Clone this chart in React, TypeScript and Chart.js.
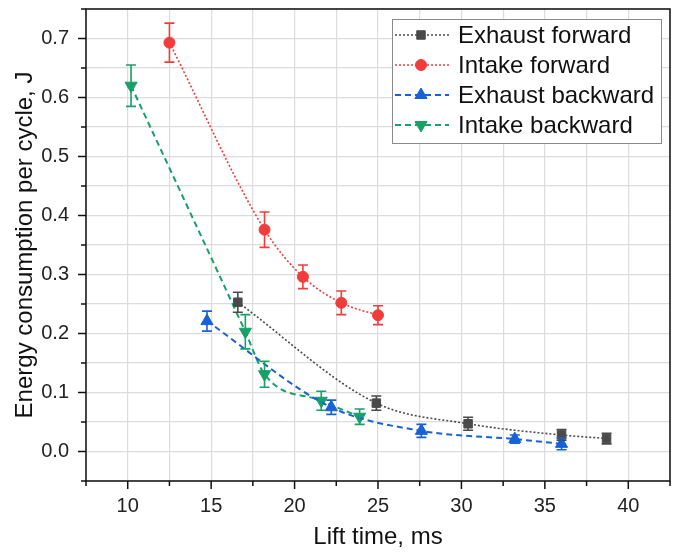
import { useEffect, useRef } from 'react';
import { Chart, registerables } from 'chart.js';
import { drawPoint } from 'chart.js/helpers';

Chart.register(...registerables);

// Lift time (ms), energy per cycle (J) and its error for each valve/direction
const seriesNames = ['Exhaust forward', 'Intake forward', 'Exhaust backward', 'Intake backward'];

const exhaustFwdTime = [16.6, 24.9, 30.4, 36.0, 38.7];
const exhaustFwdEnergy = [0.253, 0.082, 0.047, 0.028, 0.022];
const exhaustFwdErr = [0.017, 0.012, 0.011, 0.009, 0.009];

const intakeFwdTime = [12.5, 18.2, 20.5, 22.8, 25.0];
const intakeFwdEnergy = [0.693, 0.376, 0.296, 0.252, 0.231];
const intakeFwdErr = [0.033, 0.03, 0.02, 0.02, 0.016];

const exhaustBwdTime = [14.75, 22.2, 27.6, 33.2, 36.0];
const exhaustBwdEnergy = [0.221, 0.075, 0.035, 0.021, 0.013];
const exhaustBwdErr = [0.017, 0.012, 0.011, 0.007, 0.01];

const intakeBwdTime = [10.2, 17.05, 18.2, 21.6, 23.9];
const intakeBwdEnergy = [0.62, 0.203, 0.131, 0.086, 0.059];
const intakeBwdErr = [0.035, 0.029, 0.022, 0.016, 0.013];

const xMin = 7.5;
const xMax = 42.5;
const yMin = -0.05;
const yMax = 0.75;

const FONT = "'Liberation Sans', Arial, sans-serif";

const series = [
  { name: seriesNames[0], xs: exhaustFwdTime, ys: exhaustFwdEnergy, err: exhaustFwdErr, color: '#4a4a4a', dash: [2, 2], width: 1.6, style: 'rect', radius: 6, rotation: 0 },
  { name: seriesNames[1], xs: intakeFwdTime, ys: intakeFwdEnergy, err: intakeFwdErr, color: '#f23c3c', dash: [2, 2], width: 1.6, style: 'circle', radius: 5.5, rotation: 0 },
  { name: seriesNames[2], xs: exhaustBwdTime, ys: exhaustBwdEnergy, err: exhaustBwdErr, color: '#1762d6', dash: [6, 4], width: 2, style: 'triangle', radius: 7, rotation: 0 },
  { name: seriesNames[3], xs: intakeBwdTime, ys: intakeBwdEnergy, err: intakeBwdErr, color: '#17a068', dash: [6, 4], width: 2, style: 'triangle', radius: 7, rotation: 180 },
];

const isMultiple = (v: number, step: number) => Math.abs(Math.round(v / step) * step - v) < 1e-6;

const errorBarPlugin = {
  id: 'errorBars',
  afterDatasetsDraw(chart: any) {
    const { ctx, scales } = chart;
    ctx.save();
    series.forEach((s) => {
      ctx.strokeStyle = s.color;
      ctx.lineWidth = 1.6;
      ctx.setLineDash([]);
      s.xs.forEach((x, i) => {
        const px = scales.x.getPixelForValue(x);
        const top = scales.y.getPixelForValue(s.ys[i] + s.err[i]);
        const bot = scales.y.getPixelForValue(s.ys[i] - s.err[i]);
        ctx.beginPath();
        ctx.moveTo(px, top);
        ctx.lineTo(px, bot);
        ctx.moveTo(px - 5, top);
        ctx.lineTo(px + 5, top);
        ctx.moveTo(px - 5, bot);
        ctx.lineTo(px + 5, bot);
        ctx.stroke();
      });
    });
    ctx.restore();
  },
};

const framePlugin = {
  id: 'frame',
  afterDraw(chart: any) {
    const { ctx, chartArea: a, scales } = chart;
    ctx.save();
    ctx.strokeStyle = '#111';
    ctx.lineWidth = 1.5;
    ctx.setLineDash([]);
    ctx.strokeRect(a.left, a.top, a.right - a.left, a.bottom - a.top);
    ctx.beginPath();
    scales.x.ticks.forEach((t: any) => {
      const px = scales.x.getPixelForValue(t.value);
      const len = isMultiple(t.value, 5) ? 8 : 5;
      ctx.moveTo(px, a.bottom);
      ctx.lineTo(px, a.bottom + len);
    });
    scales.y.ticks.forEach((t: any) => {
      const py = scales.y.getPixelForValue(t.value);
      const len = isMultiple(t.value, 0.1) ? 8 : 5;
      ctx.moveTo(a.left, py);
      ctx.lineTo(a.left - len, py);
    });
    ctx.stroke();

    // legend box in the upper right of the plot
    const bx = 392;
    const by = 19;
    const bw = 269;
    const bh = 124;
    ctx.fillStyle = '#ffffff';
    ctx.fillRect(bx, by, bw, bh);
    ctx.strokeStyle = '#8a8a8a';
    ctx.lineWidth = 1;
    ctx.strokeRect(bx + 0.5, by + 0.5, bw, bh);
    ctx.font = `24px ${FONT}`;
    ctx.textBaseline = 'middle';
    ctx.textAlign = 'left';
    series.forEach((s, i) => {
      const cy = 35 + i * 30;
      ctx.strokeStyle = s.color;
      ctx.lineWidth = s.width;
      ctx.setLineDash(s.dash);
      ctx.beginPath();
      ctx.moveTo(395, cy);
      ctx.lineTo(449, cy);
      ctx.stroke();
      ctx.setLineDash([]);
      ctx.fillStyle = s.color;
      ctx.strokeStyle = s.color;
      ctx.lineWidth = 1;
      drawPoint(ctx, { pointStyle: s.style, rotation: s.rotation, radius: s.radius, borderWidth: 1 } as any, 421, cy);
      ctx.fillStyle = '#111';
      ctx.fillText(s.name, 458, cy + 1);
    });
    ctx.restore();
  },
};

export default function App() {
  const ref = useRef<HTMLCanvasElement | null>(null);

  useEffect(() => {
    if (!ref.current) return;
    const chart = new Chart(ref.current, {
      type: 'scatter',
      data: {
        datasets: series.map((s) => ({
          label: s.name,
          data: s.xs.map((x, i) => ({ x, y: s.ys[i] })),
          showLine: true,
          borderColor: s.color,
          backgroundColor: s.color,
          borderWidth: s.width,
          borderDash: s.dash,
          cubicInterpolationMode: 'monotone' as const,
          pointStyle: s.style as any,
          pointRotation: s.rotation,
          pointRadius: s.radius,
          pointBorderWidth: 1,
          pointBorderColor: s.color,
          pointBackgroundColor: s.color,
        })),
      },
      options: {
        responsive: false,
        animation: false,
        layout: { padding: { top: 9, right: 7, left: 0, bottom: 0 } },
        plugins: {
          legend: { display: false },
          tooltip: { enabled: false },
        },
        scales: {
          x: {
            type: 'linear',
            min: xMin,
            max: xMax,
            afterFit: (scale: any) => {
              scale.height = 75;
              scale.paddingLeft = 0;
              scale.paddingRight = 0;
            },
            ticks: {
              stepSize: 2.5,
              autoSkip: false,
              maxRotation: 0,
              padding: 13,
              color: '#222',
              font: { family: FONT, size: 20 },
              callback: (v: any) => (isMultiple(Number(v), 5) ? String(Math.round(Number(v))) : ''),
            },
            grid: { color: '#dcdcdc', lineWidth: 1.2, drawTicks: false },
            border: { display: false },
            title: {
              display: true,
              text: 'Lift time, ms',
              color: '#111',
              font: { family: FONT, size: 24 },
              padding: { top: 0, bottom: 4 },
            },
          },
          y: {
            type: 'linear',
            min: yMin,
            max: yMax,
            afterFit: (scale: any) => {
              scale.width = 86;
              scale.paddingTop = 0;
              scale.paddingBottom = 0;
            },
            ticks: {
              stepSize: 0.05,
              autoSkip: false,
              padding: 17,
              color: '#222',
              font: { family: FONT, size: 20 },
              callback: (v: any) => {
                const n = Number(v);
                return isMultiple(n, 0.1) && n > -0.01 && n < 0.71 ? n.toFixed(1) : '';
              },
            },
            grid: { color: '#dcdcdc', lineWidth: 1.2, drawTicks: false },
            border: { display: false },
            title: {
              display: true,
              text: 'Energy consumption per cycle, J',
              color: '#111',
              font: { family: FONT, size: 24 },
              padding: { top: 11, bottom: 0 },
            },
          },
        },
      },
      plugins: [errorBarPlugin, framePlugin],
    });
    return () => chart.destroy();
  }, []);

  return (
    <div style={{ position: 'fixed', left: 0, top: 0, width: 678, height: 556, background: '#fff' }}>
      <canvas ref={ref} width={678} height={556} style={{ display: 'block' }} />
    </div>
  );
}
